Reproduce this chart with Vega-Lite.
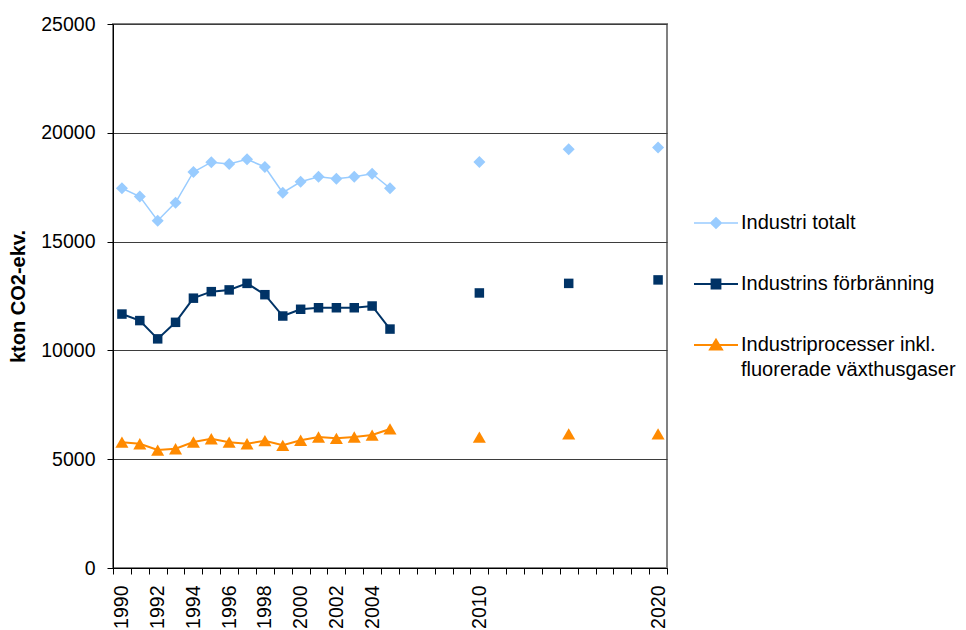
{
  "$schema": "https://vega.github.io/schema/vega-lite/v6.json",
  "width": 554,
  "height": 544,
  "autosize": "none",
  "padding": {"left": 113, "top": 24, "right": 299, "bottom": 62},
  "background": "white",
  "config": {
    "font": "Liberation Sans",
    "view": {"stroke": "#808080", "strokeWidth": 2}
  },
  "data": {
    "values": [
      {"year": 1990, "series": "Industri totalt", "value": 17450},
      {"year": 1991, "series": "Industri totalt", "value": 17070},
      {"year": 1992, "series": "Industri totalt", "value": 15960},
      {"year": 1993, "series": "Industri totalt", "value": 16790},
      {"year": 1994, "series": "Industri totalt", "value": 18200},
      {"year": 1995, "series": "Industri totalt", "value": 18650},
      {"year": 1996, "series": "Industri totalt", "value": 18570},
      {"year": 1997, "series": "Industri totalt", "value": 18780},
      {"year": 1998, "series": "Industri totalt", "value": 18430},
      {"year": 1999, "series": "Industri totalt", "value": 17250},
      {"year": 2000, "series": "Industri totalt", "value": 17750},
      {"year": 2001, "series": "Industri totalt", "value": 17980},
      {"year": 2002, "series": "Industri totalt", "value": 17890},
      {"year": 2003, "series": "Industri totalt", "value": 17980},
      {"year": 2004, "series": "Industri totalt", "value": 18120},
      {"year": 2005, "series": "Industri totalt", "value": 17450},
      {"year": 2010, "series": "Industri totalt", "value": 18660},
      {"year": 2015, "series": "Industri totalt", "value": 19240},
      {"year": 2020, "series": "Industri totalt", "value": 19330},
      {"year": 1990, "series": "Industrins förbränning", "value": 11670},
      {"year": 1991, "series": "Industrins förbränning", "value": 11370},
      {"year": 1992, "series": "Industrins förbränning", "value": 10530},
      {"year": 1993, "series": "Industrins förbränning", "value": 11290},
      {"year": 1994, "series": "Industrins förbränning", "value": 12400},
      {"year": 1995, "series": "Industrins förbränning", "value": 12700},
      {"year": 1996, "series": "Industrins förbränning", "value": 12780},
      {"year": 1997, "series": "Industrins förbränning", "value": 13080},
      {"year": 1998, "series": "Industrins förbränning", "value": 12560},
      {"year": 1999, "series": "Industrins förbränning", "value": 11580},
      {"year": 2000, "series": "Industrins förbränning", "value": 11890},
      {"year": 2001, "series": "Industrins förbränning", "value": 11960},
      {"year": 2002, "series": "Industrins förbränning", "value": 11960},
      {"year": 2003, "series": "Industrins förbränning", "value": 11960},
      {"year": 2004, "series": "Industrins förbränning", "value": 12040},
      {"year": 2005, "series": "Industrins förbränning", "value": 10980},
      {"year": 2010, "series": "Industrins förbränning", "value": 12640},
      {"year": 2015, "series": "Industrins förbränning", "value": 13080},
      {"year": 2020, "series": "Industrins förbränning", "value": 13240},
      {"year": 1990, "series": "Industriprocesser inkl. fluorerade växthusgaser", "value": 5780},
      {"year": 1991, "series": "Industriprocesser inkl. fluorerade växthusgaser", "value": 5710},
      {"year": 1992, "series": "Industriprocesser inkl. fluorerade växthusgaser", "value": 5420},
      {"year": 1993, "series": "Industriprocesser inkl. fluorerade växthusgaser", "value": 5480},
      {"year": 1994, "series": "Industriprocesser inkl. fluorerade växthusgaser", "value": 5790},
      {"year": 1995, "series": "Industriprocesser inkl. fluorerade växthusgaser", "value": 5940},
      {"year": 1996, "series": "Industriprocesser inkl. fluorerade växthusgaser", "value": 5780},
      {"year": 1997, "series": "Industriprocesser inkl. fluorerade växthusgaser", "value": 5710},
      {"year": 1998, "series": "Industriprocesser inkl. fluorerade växthusgaser", "value": 5850},
      {"year": 1999, "series": "Industriprocesser inkl. fluorerade växthusgaser", "value": 5640},
      {"year": 2000, "series": "Industriprocesser inkl. fluorerade växthusgaser", "value": 5870},
      {"year": 2001, "series": "Industriprocesser inkl. fluorerade växthusgaser", "value": 6020},
      {"year": 2002, "series": "Industriprocesser inkl. fluorerade växthusgaser", "value": 5960},
      {"year": 2003, "series": "Industriprocesser inkl. fluorerade växthusgaser", "value": 6020},
      {"year": 2004, "series": "Industriprocesser inkl. fluorerade växthusgaser", "value": 6110},
      {"year": 2005, "series": "Industriprocesser inkl. fluorerade växthusgaser", "value": 6390},
      {"year": 2010, "series": "Industriprocesser inkl. fluorerade växthusgaser", "value": 6010},
      {"year": 2015, "series": "Industriprocesser inkl. fluorerade växthusgaser", "value": 6160},
      {"year": 2020, "series": "Industriprocesser inkl. fluorerade växthusgaser", "value": 6160}
    ]
  },
  "encoding": {
    "x": {
      "field": "year",
      "type": "quantitative",
      "scale": {"domain": [1989.5, 2020.5], "nice": false, "zero": false},
      "axis": {
        "title": null,
        "grid": false,
        "values": [1989.5, 1990.5, 1991.5, 1992.5, 1993.5, 1994.5, 1995.5, 1996.5, 1997.5, 1998.5, 1999.5, 2000.5, 2001.5, 2002.5, 2003.5, 2004.5, 2005.5, 2006.5, 2007.5, 2008.5, 2009.5, 2010.5, 2011.5, 2012.5, 2013.5, 2014.5, 2015.5, 2016.5, 2017.5, 2018.5, 2019.5, 2020.5],
        "labelExpr": "indexof([1989.5,1991.5,1993.5,1995.5,1997.5,1999.5,2001.5,2003.5,2009.5,2019.5], datum.value) >= 0 ? format(datum.value + 0.5, 'd') : ''",
        "labelOffset": 8.94,
        "labelAngle": -90,
        "labelAlign": "right",
        "labelBaseline": "middle",
        "labelFontSize": 19.5,
        "labelColor": "#000",
        "labelPadding": 11,
        "labelOverlap": false,
        "labelFlush": false,
        "labelBound": false,
        "tickSize": 6,
        "tickColor": "#000",
        "domainColor": "#000",
        "domainWidth": 1
      }
    },
    "y": {
      "field": "value",
      "type": "quantitative",
      "scale": {"domain": [0, 25000], "nice": false},
      "axis": {
        "title": "kton CO2-ekv.",
        "titleFontSize": 20,
        "titleFontWeight": "bold",
        "titleColor": "#000",
        "titlePadding": 12,
        "values": [0, 5000, 10000, 15000, 20000, 25000],
        "format": "d",
        "labelFontSize": 19.5,
        "labelColor": "#000",
        "labelPadding": 12,
        "tickSize": 6,
        "tickColor": "#000",
        "domainColor": "#000",
        "domainWidth": 1,
        "grid": true,
        "gridColor": "#3d3d3d",
        "gridWidth": 1.2
      }
    },
    "color": {
      "field": "series",
      "type": "nominal",
      "scale": {
        "domain": ["Industri totalt", "Industrins förbränning", "Industriprocesser inkl. fluorerade växthusgaser"],
        "range": ["#99CCFF", "#003366", "#FF8A00"]
      },
      "legend": {
        "title": null,
        "orient": "none",
        "legendX": 580,
        "legendY": 189,
        "padding": 0,
        "symbolSize": 1936,
        "symbolType": "M-1,0H1",
        "symbolOffset": 13,
        "labelFontSize": 20,
        "labelColor": "#000",
        "labelOffset": 15,
        "labelLimit": 400,
        "rowPadding": 41,
        "labelExpr": "datum.label == 'Industriprocesser inkl. fluorerade växthusgaser' ? ['Industriprocesser inkl.', 'fluorerade växthusgaser'] : datum.label",
        "encode": {
          "symbols": {
            "update": {
              "shape": {"signal": "datum.value === 'Industri totalt' ? 'M-1,0H1M-0.24,0L0,-0.24L0.24,0L0,0.24Z' : datum.value === 'Industrins förbränning' ? 'M-1,0H1M-0.2,-0.2H0.2V0.2H-0.2Z' : 'M-1,0H1M0,-0.24L0.27,0.21L-0.27,0.21Z'"},
              "stroke": {"signal": "datum.value === 'Industri totalt' ? '#99CCFF' : datum.value === 'Industrins förbränning' ? '#003366' : '#FF8A00'"},
              "fill": {"signal": "datum.value === 'Industri totalt' ? '#99CCFF' : datum.value === 'Industrins förbränning' ? '#003366' : '#FF8A00'"},
              "strokeWidth": {"signal": "datum.value === 'Industri totalt' ? 1.5 : 2"},
              "opacity": {"value": 1}
            }
          },
          "labels": {
            "update": {
              "lineHeight": {"value": 25}
            }
          }
        }
      }
    }
  },
  "layer": [
    {
      "transform": [{"filter": "datum.year <= 2005 && datum.series === 'Industri totalt'"}],
      "mark": {"type": "line", "strokeWidth": 1.5}
    },
    {
      "transform": [{"filter": "datum.year <= 2005 && datum.series !== 'Industri totalt'"}],
      "mark": {"type": "line", "strokeWidth": 2}
    },
    {
      "transform": [{"filter": "datum.series === 'Industri totalt'"}],
      "mark": {"type": "point", "filled": true, "opacity": 1, "shape": "diamond", "size": 144}
    },
    {
      "transform": [{"filter": "datum.series === 'Industrins förbränning'"}],
      "mark": {"type": "point", "filled": true, "opacity": 1, "shape": "square", "size": 90}
    },
    {
      "transform": [{"filter": "datum.series === 'Industriprocesser inkl. fluorerade växthusgaser'"}],
      "mark": {"type": "point", "filled": true, "opacity": 1, "shape": "triangle-up", "size": 170}
    }
  ]
}
